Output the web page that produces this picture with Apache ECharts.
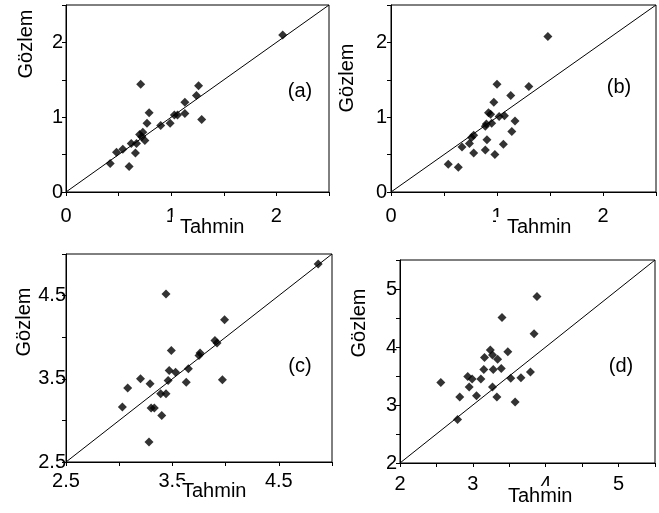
<!DOCTYPE html>
<html>
<head>
<meta charset="utf-8">
<script src="https://cdn.jsdelivr.net/npm/echarts@6/dist/echarts.min.js"></script>
<style>
	html, body { margin: 0; padding: 0; background: #fff; }
	#chart { width: 659px; height: 513px; }
</style>
</head>
<body>
<div id="chart"></div>
<script>
	// panel (a)
	const tahminA = [0.71, 1.26, 1.24, 1.13, 0.79, 1.03, 1.06, 1.13, 1.29, 0.77, 0.90, 0.99, 0.73, 0.70, 0.72, 0.75, 0.62, 0.67, 0.54, 0.48, 0.66, 0.42, 0.60, 2.06]
	const gozlemA = [1.44, 1.42, 1.29, 1.20, 1.06, 1.03, 1.03, 1.05, 0.97, 0.92, 0.89, 0.92, 0.80, 0.77, 0.74, 0.69, 0.65, 0.65, 0.57, 0.53, 0.52, 0.38, 0.34, 2.10]
	// panel (b)
	const tahminB = [1.48, 1.00, 1.30, 1.13, 0.97, 0.92, 0.94, 1.02, 1.07, 1.17, 0.89, 0.90, 0.95, 1.14, 0.78, 0.76, 0.74, 0.905, 0.67, 1.06, 0.78, 0.89, 0.98, 0.54, 0.635]
	const gozlemB = [2.08, 1.44, 1.41, 1.29, 1.20, 1.06, 1.04, 1.01, 1.02, 0.95, 0.88, 0.91, 0.92, 0.81, 0.76, 0.73, 0.65, 0.70, 0.60, 0.64, 0.52, 0.56, 0.50, 0.37, 0.33]
	// panel (c)
	const tahminC = [3.44, 3.99, 3.90, 3.92, 3.49, 3.76, 3.75, 3.47, 3.53, 3.65, 3.20, 3.29, 3.46, 3.63, 3.97, 3.08, 3.39, 3.44, 3.03, 3.30, 3.33, 3.40, 3.28, 4.87]
	const gozlemC = [4.52, 4.21, 3.96, 3.93, 3.84, 3.81, 3.78, 3.60, 3.58, 3.62, 3.50, 3.44, 3.48, 3.46, 3.49, 3.39, 3.32, 3.32, 3.16, 3.15, 3.15, 3.06, 2.74, 4.88]
	// panel (d)
	const tahminD = [3.88, 3.40, 3.84, 3.24, 3.27, 3.16, 3.34, 3.48, 3.15, 3.28, 3.39, 2.93, 2.99, 3.11, 2.56, 3.52, 3.66, 3.79, 2.95, 3.27, 2.82, 3.05, 3.33, 3.58, 2.79]
	const gozlemD = [4.87, 4.51, 4.23, 3.95, 3.86, 3.82, 3.79, 3.92, 3.61, 3.61, 3.63, 3.49, 3.45, 3.45, 3.39, 3.46, 3.47, 3.57, 3.31, 3.31, 3.14, 3.16, 3.14, 3.05, 2.75]

	// axis ranges and tick labels
	const rangeAB = [0, 2.5]
	const rangeC = [2.5, 5]
	const rangeD = [2, 5.5]
	const labelsAB = [0, 1, 2]
	const labelsC = [2.5, 3.5, 4.5]
	const labelsD = [2, 3, 4, 5]
	const panelTags = ['(a)', '(b)', '(c)', '(d)']

	const font = 'Liberation Sans, Arial, sans-serif'

	const panels = [
		{ tahmin: tahminA, gozlem: gozlemA, range: rangeAB, labels: labelsAB, grid: { left: 66, top: 5, width: 263, height: 187 }, xMargin: 14, yMargin: 3 },
		{ tahmin: tahminB, gozlem: gozlemB, range: rangeAB, labels: labelsAB, grid: { left: 391, top: 5, width: 265, height: 187 }, xMargin: 14, yMargin: 4 },
		{ tahmin: tahminC, gozlem: gozlemC, range: rangeC, labels: labelsC, grid: { left: 66, top: 254, width: 266, height: 208 }, xMargin: 9, yMargin: 0 },
		{ tahmin: tahminD, gozlem: gozlemD, range: rangeD, labels: labelsD, grid: { left: 400, top: 260, width: 255, height: 203 }, xMargin: 11, yMargin: 3 }
	]

	function makeAxis(p, idx, isX) {
		return {
			type: 'value',
			gridIndex: idx,
			min: p.range[0],
			max: p.range[1],
			interval: 0.5,
			axisLine: { show: true, onZero: false, lineStyle: { color: '#000', width: 1 } },
			axisTick: { show: true, inside: false, length: 4, lineStyle: { color: '#000' } },
			splitLine: { show: false },
			axisLabel: {
				color: '#000',
				fontFamily: font,
				fontSize: 20,
				margin: isX ? p.xMargin : p.yMargin,
				showMinLabel: true,
				showMaxLabel: true,
				formatter: v => p.labels.some(l => Math.abs(l - v) < 1e-6) ? String(v) : ''
			}
		}
	}

	const chart = echarts.init(document.getElementById('chart'))

	const series = []
	panels.forEach((p, i) => {
		series.push({
			type: 'line',
			xAxisIndex: i,
			yAxisIndex: i,
			data: [[p.range[0], p.range[0]], [p.range[1], p.range[1]]],
			showSymbol: false,
			silent: true,
			z: 1,
			lineStyle: { color: '#000', width: 1 }
		})
		series.push({
			type: 'scatter',
			xAxisIndex: i,
			yAxisIndex: i,
			symbol: 'diamond',
			symbolSize: 9,
			z: 2,
			itemStyle: { color: '#000' },
			data: p.tahmin.map((t, k) => [t, p.gozlem[k]])
		})
	})

	// axis titles; the white box of "Tahmin" covers part of a tick label, as in the original
	const tahminPos = [
		{ x: 172, y: 217, padLeft: 8 },
		{ x: 496, y: 217, padLeft: 11 },
		{ x: 180, y: 481, padLeft: 2 },
		{ x: 506, y: 486, padLeft: 2 }
	]
	const gozlemPos = [[26, 44], [347, 78], [24, 322], [359, 323]]
	const tagPos = [[300, 91], [619, 87], [300, 366], [621, 366]]

	const graphic = []
	tahminPos.forEach(t => {
		graphic.push({
			type: 'text',
			z: 100,
			style: {
				x: t.x, y: t.y,
				text: 'Tahmin',
				fill: '#000',
				font: '20px ' + font,
				lineHeight: 20,
				align: 'left',
				verticalAlign: 'top',
				backgroundColor: '#fff',
				padding: [0, 0, 2, t.padLeft]
			}
		})
	})
	gozlemPos.forEach(g => {
		graphic.push({
			type: 'text',
			x: g[0], y: g[1],
			rotation: Math.PI / 2,
			z: 100,
			style: {
				x: 0, y: 0,
				text: 'Gözlem',
				fill: '#000',
				font: '20px ' + font,
				align: 'center',
				verticalAlign: 'middle'
			}
		})
	})
	tagPos.forEach((g, i) => {
		graphic.push({
			type: 'text',
			z: 100,
			style: {
				x: g[0], y: g[1],
				text: panelTags[i],
				fill: '#000',
				font: '20px ' + font,
				align: 'center',
				verticalAlign: 'middle'
			}
		})
	})

	chart.setOption({
		animation: false,
		backgroundColor: '#fff',
		grid: panels.map(p => Object.assign({ show: true, borderColor: '#000', borderWidth: 1, backgroundColor: 'transparent' }, p.grid)),
		xAxis: panels.map((p, i) => makeAxis(p, i, true)),
		yAxis: panels.map((p, i) => makeAxis(p, i, false)),
		series: series,
		graphic: graphic
	})
</script>
</body>
</html>
